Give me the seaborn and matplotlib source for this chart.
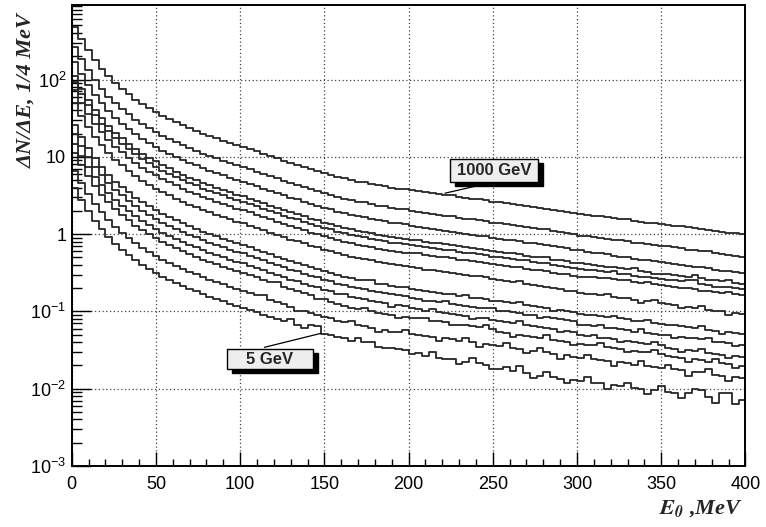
import numpy as np
import pandas as pd
import matplotlib
matplotlib.use('Agg')
import matplotlib.pyplot as plt
import seaborn as sns
from matplotlib.patches import Rectangle
from matplotlib.ticker import FixedLocator, FixedFormatter, MultipleLocator, NullFormatter

# 4 MeV bins from 0 to 400 MeV
bin_width = 4
bin_edges = np.arange(0, 400 + bin_width, bin_width)
bin_centers = bin_edges[:-1] + bin_width / 2

# log10 of the bin contents, top curve (1000 GeV) first
c01 = [2.68, 2.52, 2.38, 2.25, 2.14, 2.04, 1.95, 1.88, 1.81, 1.74, 1.68, 1.63, 1.58,
       1.53, 1.49, 1.45, 1.41, 1.37, 1.34, 1.30, 1.27, 1.24, 1.21, 1.18, 1.15, 1.13,
       1.10, 1.07, 1.04, 1.01, 0.98, 0.95, 0.92, 0.90, 0.87, 0.84, 0.82, 0.79,
       0.77, 0.74, 0.72, 0.70, 0.68, 0.67, 0.65, 0.63, 0.62, 0.60, 0.59, 0.58,
       0.57, 0.56, 0.54, 0.53, 0.52, 0.51, 0.50, 0.48, 0.47, 0.46, 0.45, 0.44, 0.42,
       0.41, 0.40, 0.39, 0.38, 0.36, 0.35, 0.34, 0.33, 0.31, 0.30, 0.29, 0.27,
       0.26, 0.25, 0.24, 0.23, 0.22, 0.21, 0.20, 0.19, 0.17, 0.16, 0.15, 0.14, 0.13,
       0.12, 0.11, 0.10, 0.09, 0.08, 0.07, 0.05, 0.04, 0.03, 0.02, 0.01, 0.00]
c02 = [2.42, 2.26, 2.12, 1.99, 1.88, 1.78, 1.69, 1.62, 1.55, 1.48, 1.42, 1.37, 1.32,
       1.27, 1.23, 1.19, 1.15, 1.11, 1.08, 1.04, 1.01, 0.98, 0.95, 0.92, 0.89, 0.87,
       0.84, 0.81, 0.78, 0.75, 0.72, 0.69, 0.66, 0.64, 0.61, 0.58, 0.56, 0.53,
       0.51, 0.48, 0.46, 0.44, 0.42, 0.41, 0.39, 0.37, 0.36, 0.34, 0.33, 0.32,
       0.30, 0.29, 0.27, 0.26, 0.25, 0.24, 0.23, 0.21, 0.20, 0.19, 0.18, 0.17, 0.15,
       0.14, 0.13, 0.12, 0.11, 0.09, 0.08, 0.07, 0.06, 0.04, 0.03, 0.02, 0.00,
       -0.02, -0.03, -0.04, -0.05, -0.06, -0.07, -0.07, -0.09, -0.11, -0.12, -0.13, -0.14, -0.15,
       -0.16, -0.17, -0.18, -0.20, -0.21, -0.22, -0.22, -0.25, -0.26, -0.27, -0.28, -0.29]
c03 = [2.23, 2.07, 1.93, 1.80, 1.69, 1.59, 1.50, 1.43, 1.36, 1.29, 1.23, 1.18, 1.13,
       1.08, 1.04, 1.00, 0.96, 0.92, 0.89, 0.85, 0.82, 0.79, 0.76, 0.73, 0.70, 0.68,
       0.65, 0.62, 0.59, 0.56, 0.53, 0.50, 0.47, 0.45, 0.42, 0.39, 0.37, 0.34,
       0.32, 0.29, 0.27, 0.25, 0.23, 0.22, 0.20, 0.18, 0.17, 0.15, 0.14, 0.13,
       0.11, 0.09, 0.08, 0.06, 0.05, 0.04, 0.03, 0.01, 0.00, -0.01, -0.02, -0.03, -0.05,
       -0.06, -0.07, -0.08, -0.09, -0.11, -0.12, -0.13, -0.14, -0.16, -0.17, -0.18, -0.20,
       -0.21, -0.23, -0.24, -0.25, -0.26, -0.28, -0.29, -0.30, -0.32, -0.33, -0.33, -0.35, -0.36,
       -0.38, -0.39, -0.40, -0.41, -0.42, -0.43, -0.44, -0.46, -0.48, -0.48, -0.49, -0.50]
c04 = [2.04, 1.88, 1.74, 1.61, 1.50, 1.40, 1.31, 1.24, 1.17, 1.10, 1.04, 0.99, 0.94,
       0.89, 0.85, 0.81, 0.77, 0.73, 0.70, 0.66, 0.63, 0.60, 0.57, 0.54, 0.51, 0.49,
       0.46, 0.43, 0.40, 0.37, 0.34, 0.31, 0.28, 0.26, 0.23, 0.20, 0.18, 0.15,
       0.13, 0.10, 0.08, 0.06, 0.04, 0.03, 0.01, -0.01, -0.02, -0.04, -0.05, -0.06,
       -0.07, -0.08, -0.10, -0.11, -0.12, -0.13, -0.14, -0.16, -0.17, -0.18, -0.19, -0.20, -0.22,
       -0.23, -0.24, -0.25, -0.26, -0.28, -0.29, -0.30, -0.29, -0.33, -0.34, -0.35, -0.37,
       -0.38, -0.39, -0.40, -0.41, -0.42, -0.43, -0.44, -0.45, -0.44, -0.48, -0.49, -0.51, -0.51,
       -0.52, -0.53, -0.54, -0.55, -0.53, -0.57, -0.59, -0.60, -0.61, -0.60, -0.63, -0.64]
c05 = [1.97, 1.81, 1.67, 1.54, 1.43, 1.33, 1.24, 1.17, 1.10, 1.03, 0.97, 0.92, 0.87,
       0.82, 0.78, 0.74, 0.70, 0.66, 0.63, 0.59, 0.56, 0.53, 0.50, 0.47, 0.44, 0.42,
       0.39, 0.36, 0.33, 0.30, 0.27, 0.24, 0.21, 0.19, 0.16, 0.13, 0.11, 0.08,
       0.06, 0.03, 0.01, -0.01, -0.03, -0.04, -0.06, -0.08, -0.09, -0.11, -0.12, -0.13,
       -0.14, -0.15, -0.17, -0.18, -0.19, -0.20, -0.21, -0.23, -0.24, -0.25, -0.26, -0.27, -0.29,
       -0.30, -0.31, -0.32, -0.33, -0.33, -0.36, -0.37, -0.38, -0.40, -0.41, -0.42, -0.44,
       -0.45, -0.46, -0.47, -0.48, -0.49, -0.48, -0.51, -0.52, -0.54, -0.55, -0.56, -0.57, -0.58,
       -0.59, -0.60, -0.61, -0.59, -0.60, -0.64, -0.66, -0.69, -0.68, -0.69, -0.70, -0.71]
c06 = [1.86, 1.70, 1.56, 1.43, 1.32, 1.22, 1.13, 1.06, 0.99, 0.92, 0.86, 0.81, 0.76,
       0.71, 0.67, 0.63, 0.59, 0.55, 0.52, 0.48, 0.45, 0.42, 0.39, 0.36, 0.33, 0.31,
       0.28, 0.25, 0.22, 0.19, 0.16, 0.13, 0.10, 0.08, 0.05, 0.02, 0.00, -0.03,
       -0.05, -0.08, -0.10, -0.12, -0.14, -0.15, -0.17, -0.19, -0.20, -0.22, -0.23, -0.24,
       -0.24, -0.25, -0.27, -0.28, -0.29, -0.30, -0.31, -0.33, -0.34, -0.35, -0.36, -0.37, -0.39,
       -0.40, -0.41, -0.42, -0.43, -0.45, -0.46, -0.47, -0.48, -0.50, -0.51, -0.52, -0.54,
       -0.55, -0.55, -0.56, -0.57, -0.57, -0.58, -0.59, -0.60, -0.62, -0.63, -0.62, -0.65, -0.66,
       -0.67, -0.68, -0.70, -0.70, -0.71, -0.74, -0.74, -0.75, -0.76, -0.75, -0.78, -0.79]
c07 = [1.69, 1.53, 1.39, 1.26, 1.15, 1.05, 0.96, 0.89, 0.82, 0.75, 0.69, 0.64, 0.59,
       0.54, 0.50, 0.46, 0.42, 0.38, 0.35, 0.31, 0.28, 0.25, 0.22, 0.19, 0.16, 0.14,
       0.11, 0.08, 0.05, 0.02, -0.01, -0.04, -0.07, -0.09, -0.12, -0.15, -0.17, -0.20,
       -0.22, -0.25, -0.27, -0.29, -0.31, -0.32, -0.34, -0.36, -0.37, -0.39, -0.40, -0.41,
       -0.43, -0.44, -0.46, -0.47, -0.48, -0.49, -0.50, -0.52, -0.53, -0.54, -0.54, -0.56, -0.58,
       -0.60, -0.61, -0.62, -0.61, -0.65, -0.66, -0.67, -0.68, -0.70, -0.71, -0.73, -0.74,
       -0.76, -0.77, -0.78, -0.79, -0.78, -0.81, -0.82, -0.83, -0.85, -0.89, -0.87, -0.85, -0.89,
       -0.91, -0.92, -0.96, -0.94, -0.95, -0.93, -0.98, -0.99, -1.00, -1.04, -1.02, -1.03]
c08 = [1.41, 1.25, 1.11, 0.98, 0.87, 0.77, 0.68, 0.61, 0.54, 0.47, 0.41, 0.36, 0.31,
       0.26, 0.22, 0.18, 0.14, 0.10, 0.07, 0.03, 0.00, -0.03, -0.06, -0.09, -0.12, -0.14,
       -0.17, -0.20, -0.23, -0.26, -0.29, -0.32, -0.35, -0.37, -0.40, -0.43, -0.45, -0.48,
       -0.50, -0.53, -0.55, -0.57, -0.59, -0.60, -0.60, -0.64, -0.65, -0.67, -0.68, -0.69,
       -0.71, -0.72, -0.74, -0.75, -0.76, -0.77, -0.78, -0.80, -0.79, -0.82, -0.83, -0.84, -0.86,
       -0.87, -0.88, -0.89, -0.88, -0.92, -0.93, -0.94, -0.95, -0.99, -0.98, -0.99, -1.01,
       -1.03, -1.04, -1.05, -1.06, -1.07, -1.06, -1.09, -1.10, -1.12, -1.13, -1.11, -1.15, -1.16,
       -1.17, -1.18, -1.19, -1.20, -1.21, -1.19, -1.24, -1.25, -1.29, -1.27, -1.28, -1.29]
c09 = [1.30, 1.14, 1.00, 0.87, 0.76, 0.66, 0.57, 0.50, 0.43, 0.36, 0.30, 0.25, 0.20,
       0.15, 0.11, 0.07, 0.03, -0.01, -0.04, -0.08, -0.11, -0.14, -0.17, -0.20, -0.23, -0.25,
       -0.28, -0.31, -0.34, -0.37, -0.40, -0.43, -0.46, -0.48, -0.51, -0.54, -0.56, -0.59,
       -0.61, -0.64, -0.66, -0.68, -0.70, -0.71, -0.73, -0.75, -0.76, -0.78, -0.79, -0.80,
       -0.83, -0.84, -0.86, -0.87, -0.88, -0.86, -0.90, -0.92, -0.93, -0.94, -0.95, -0.96, -0.96,
       -0.99, -1.00, -1.01, -1.02, -1.04, -1.05, -1.08, -1.07, -1.09, -1.10, -1.11, -1.13,
       -1.17, -1.18, -1.19, -1.17, -1.21, -1.22, -1.23, -1.24, -1.26, -1.23, -1.28, -1.29, -1.30,
       -1.31, -1.35, -1.33, -1.34, -1.35, -1.36, -1.34, -1.39, -1.40, -1.41, -1.45, -1.43]
c10 = [1.17, 1.01, 0.87, 0.74, 0.63, 0.53, 0.44, 0.37, 0.30, 0.23, 0.17, 0.12, 0.07,
       0.02, -0.02, -0.06, -0.10, -0.14, -0.17, -0.21, -0.24, -0.27, -0.30, -0.33, -0.36, -0.38,
       -0.41, -0.44, -0.47, -0.50, -0.53, -0.56, -0.59, -0.61, -0.64, -0.67, -0.69, -0.72,
       -0.74, -0.77, -0.77, -0.81, -0.83, -0.84, -0.86, -0.88, -0.89, -0.94, -0.92, -0.93,
       -0.96, -0.97, -0.99, -0.97, -1.01, -1.02, -1.03, -1.05, -1.06, -1.10, -1.08, -1.09, -1.11,
       -1.13, -1.14, -1.15, -1.12, -1.18, -1.19, -1.20, -1.21, -1.23, -1.26, -1.25, -1.27,
       -1.31, -1.32, -1.31, -1.34, -1.35, -1.36, -1.40, -1.38, -1.40, -1.41, -1.42, -1.39, -1.44,
       -1.47, -1.48, -1.52, -1.50, -1.51, -1.48, -1.54, -1.55, -1.56, -1.60, -1.58, -1.59]
c11 = [1.05, 0.89, 0.75, 0.62, 0.51, 0.41, 0.32, 0.25, 0.18, 0.11, 0.05, 0.00, -0.05,
       -0.10, -0.14, -0.18, -0.22, -0.26, -0.29, -0.33, -0.36, -0.39, -0.42, -0.45, -0.48, -0.50,
       -0.53, -0.56, -0.59, -0.62, -0.62, -0.68, -0.71, -0.73, -0.76, -0.79, -0.84, -0.84,
       -0.88, -0.91, -0.93, -0.95, -0.97, -0.95, -1.00, -1.02, -1.03, -1.05, -1.09, -1.07,
       -1.08, -1.09, -1.08, -1.12, -1.13, -1.14, -1.18, -1.17, -1.18, -1.19, -1.20, -1.17, -1.23,
       -1.27, -1.28, -1.33, -1.30, -1.32, -1.33, -1.34, -1.31, -1.37, -1.38, -1.39, -1.44,
       -1.42, -1.43, -1.44, -1.41, -1.46, -1.47, -1.48, -1.53, -1.51, -1.52, -1.53, -1.50, -1.55,
       -1.58, -1.59, -1.60, -1.65, -1.62, -1.63, -1.65, -1.61, -1.67, -1.68, -1.73, -1.70]
c12 = [0.82, 0.66, 0.52, 0.39, 0.28, 0.18, 0.09, 0.02, -0.05, -0.12, -0.18, -0.23, -0.28,
       -0.33, -0.37, -0.41, -0.45, -0.49, -0.52, -0.56, -0.59, -0.62, -0.65, -0.68, -0.71, -0.73,
       -0.76, -0.79, -0.79, -0.85, -0.88, -0.91, -0.94, -0.99, -0.99, -1.02, -1.04, -1.07,
       -1.09, -1.12, -1.14, -1.12, -1.18, -1.19, -1.21, -1.27, -1.24, -1.26, -1.27, -1.24,
       -1.29, -1.30, -1.32, -1.33, -1.38, -1.35, -1.36, -1.38, -1.34, -1.40, -1.46, -1.42, -1.44,
       -1.45, -1.41, -1.47, -1.48, -1.54, -1.51, -1.47, -1.53, -1.55, -1.61, -1.57, -1.59,
       -1.60, -1.56, -1.62, -1.63, -1.64, -1.70, -1.66, -1.67, -1.69, -1.64, -1.71, -1.72, -1.73,
       -1.69, -1.75, -1.76, -1.83, -1.78, -1.79, -1.75, -1.82, -1.83, -1.90, -1.85, -1.86]
c13 = [0.60, 0.44, 0.30, 0.17, 0.06, -0.04, -0.13, -0.20, -0.27, -0.34, -0.40, -0.45, -0.50,
       -0.55, -0.59, -0.63, -0.67, -0.71, -0.74, -0.78, -0.81, -0.84, -0.87, -0.90, -0.93, -0.95,
       -0.98, -1.01, -1.04, -1.07, -1.10, -1.13, -1.10, -1.18, -1.22, -1.17, -1.19, -1.29,
       -1.31, -1.33, -1.34, -1.38, -1.35, -1.39, -1.40, -1.46, -1.47, -1.47, -1.48, -1.50,
       -1.55, -1.54, -1.58, -1.53, -1.60, -1.62, -1.61, -1.68, -1.65, -1.60, -1.67, -1.69, -1.74,
       -1.75, -1.72, -1.77, -1.70, -1.80, -1.86, -1.84, -1.78, -1.85, -1.87, -1.93, -1.89,
       -1.90, -1.85, -1.92, -1.93, -2.00, -1.95, -1.96, -1.92, -1.99, -2.00, -2.07, -2.02, -1.96,
       -2.04, -2.05, -2.12, -2.06, -2.00, -2.02, -2.11, -2.19, -2.05, -2.05, -2.20, -2.14]

curves = [c01, c02, c03, c04, c05, c06, c07, c08, c09, c10, c11, c12, c13]
curve_names = ['c%02d' % (i + 1) for i in range(len(curves))]

y_ticks = [1e-3, 1e-2, 1e-1, 1, 10, 100]
y_tick_labels = [r'$\mathdefault{10^{-3}}$', r'$\mathdefault{10^{-2}}$', r'$\mathdefault{10^{-1}}$',
                 '1', '10', r'$\mathdefault{10^{2}}$']
# minor ticks 2..9 in every decade of the axis
y_minor = [m * 10.0 ** d for d in range(-3, 3) for m in range(2, 10)]

frames = []
for name, vals in zip(curve_names, curves):
    frames.append(pd.DataFrame({'E': bin_centers, 'counts': 10 ** np.array(vals), 'curve': name}))
df = pd.concat(frames, ignore_index=True)

sns.set_theme(style='white')
plt.rcParams['font.family'] = ['Liberation Sans', 'DejaVu Sans']
plt.rcParams['axes.edgecolor'] = 'black'
plt.rcParams['axes.linewidth'] = 1.4
plt.rcParams['xtick.color'] = 'black'
plt.rcParams['ytick.color'] = 'black'

fig = plt.figure(figsize=(7.66, 5.27), dpi=100)
ax = fig.add_axes([0.0936, 0.1157, 0.8796, 0.8748])

sns.histplot(data=df, x='E', weights='counts', hue='curve', bins=bin_edges.tolist(),
             element='step', fill=False, palette=['#262626'] * len(curves),
             legend=False, linewidth=1.3, ax=ax)

ax.set_yscale('log')
ax.set_xlim(0, 400)
ax.set_ylim(1e-3, 920)

ax.xaxis.set_major_locator(MultipleLocator(50))
ax.xaxis.set_minor_locator(MultipleLocator(10))
ax.yaxis.set_major_locator(FixedLocator(y_ticks))
ax.yaxis.set_major_formatter(FixedFormatter(y_tick_labels))
ax.yaxis.set_minor_locator(FixedLocator(y_minor))
ax.yaxis.set_minor_formatter(NullFormatter())

# seaborn's white style switches the ticks off, ROOT style wants them inside
ax.tick_params(axis='both', which='both', direction='in', bottom=True, left=True,
               top=False, right=False, colors='black')
ax.tick_params(axis='x', which='major', length=10, width=1, labelsize=13, pad=7)
ax.tick_params(axis='x', which='minor', length=5, width=1)
ax.tick_params(axis='y', which='major', length=14, width=1, labelsize=13, pad=4)
ax.tick_params(axis='y', which='minor', length=7, width=1)

ax.set_axisbelow(True)
ax.grid(True, which='major', linestyle=(0, (1, 2)), color='#444444', linewidth=0.9)
for s in ax.spines.values():
    s.set_visible(True)
    s.set_color('black')

ax.set_ylabel('ΔN/ΔE, 1/4 MeV', family='Liberation Serif', weight='bold',
              style='italic', fontsize=16, loc='top')
ax.yaxis.set_label_coords(-0.053, 0.983)
ax.set_xlabel(r'$\mathbfit{E}_{\mathbfit{0}}$ ,MeV', family='Liberation Serif',
              weight='bold', style='italic', fontsize=16, loc='right',
              math_fontfamily='stix')
ax.xaxis.set_label_coords(0.996, -0.07)


def label_box(x0, y0, w, h, text):
    shadow = Rectangle((x0 + 0.0074, y0 - 0.0087), w, h, transform=ax.transAxes,
                       facecolor='black', edgecolor='black', zorder=5, clip_on=False)
    box = Rectangle((x0, y0), w, h, transform=ax.transAxes, facecolor='#eeeeee',
                    edgecolor='black', linewidth=1, zorder=6, clip_on=False)
    ax.add_patch(shadow)
    ax.add_patch(box)
    ax.text(x0 + w / 2, y0 + h / 2, text, transform=ax.transAxes, ha='center',
            va='center', fontsize=12, weight='bold', zorder=7)


ax.annotate('', xy=(220, 3.32), xytext=(0.616, 0.6126), textcoords='axes fraction',
            arrowprops=dict(arrowstyle='-', lw=0.9, color='black'), zorder=4)
ax.annotate('', xy=(149.4, 0.053), xytext=(0.282, 0.256), textcoords='axes fraction',
            arrowprops=dict(arrowstyle='-', lw=0.9, color='black'), zorder=4)
label_box(0.5615, 0.616, 0.1305, 0.05, '1000 GeV')
label_box(0.2305, 0.2104, 0.1275, 0.0434, '5 GeV')

fig.savefig('out.png', dpi=100)
